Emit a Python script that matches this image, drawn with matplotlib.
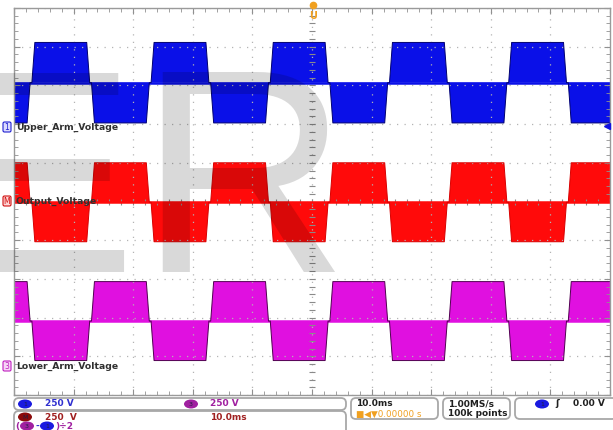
import numpy as np
import matplotlib.pyplot as plt
from matplotlib.patches import FancyBboxPatch, Ellipse

W, H = 613, 430

# scope settings
time_per_div = 10.0     # ms/div
volts_per_div = 250.0   # V/div

# start of every half-cycle burst (ms) and its shape
burst_starts = [-7.0, 3.0, 13.0, 23.0, 33.0, 43.0, 53.0, 63.0, 73.0, 83.0, 93.0]
burst_len = 9.7
ramp_len = 0.5

# polarity of each burst, envelope amplitude (V), baseline position (div)
upper_polarity = [-1, 1, -1, 1, -1, 1, -1, 1, -1, 1, -1]
output_polarity = [1, -1, 1, -1, 1, -1, 1, -1, 1, -1, 1]
lower_polarity = [1, -1, 1, -1, 1, -1, 1, -1, 1, -1, 1]
upper_amp, output_amp, lower_amp = 260.0, 255.0, 255.0
upper_offset, output_offset, lower_offset = 3.07, -0.02, -3.09

channel_names = ["Upper_Arm_Voltage", "Output_Voltage", "Lower_Arm_Voltage"]


def envelope(polarity, amp, offset):
    t, v = [], []
    for s, p in zip(burst_starts, polarity):
        level = offset + p * amp / volts_per_div
        t += [s, s + ramp_len, s + burst_len - ramp_len, s + burst_len]
        v += [offset, level, level, offset]
    return np.array(t), np.array(v)


fig = plt.figure(figsize=(W / 100, H / 100), dpi=100)
ax = fig.add_axes([14 / W, 1 - 395 / H, 596 / W, 387 / H])
ax.set_xlim(0, 10 * time_per_div)
ax.set_ylim(-5, 5)

grid_col = "#b4b4b4"
ax.set_xticks(np.arange(0, 101, time_per_div))
ax.set_yticks(np.arange(-5, 6, 1))
ax.set_xticks(np.arange(0, 100.1, time_per_div / 5), minor=True)
ax.set_yticks(np.arange(-5, 5.01, 0.2), minor=True)
ax.tick_params(which="both", direction="in", top=True, right=True,
               labelbottom=False, labelleft=False, color="#909090")
ax.tick_params(which="major", length=4)
ax.tick_params(which="minor", length=3)
ax.grid(True, which="major", color=grid_col, linestyle=(0, (1, 5)), lw=0.9)
for sp in ax.spines.values():
    sp.set_color("#9a9a9a")
    sp.set_linewidth(1.0)

# tick marks along the centre cross
xs = np.arange(0, 100.1, time_per_div / 5)
ys = np.arange(-5, 5.01, 0.2)
ax.plot(xs, np.zeros_like(xs), linestyle="none", marker="|", ms=4, color="#8a8a8a", mew=0.8)
ax.plot(np.full_like(ys, 50.0), ys, linestyle="none", marker="_", ms=4, color="#8a8a8a", mew=0.8)

traces = [
    (upper_polarity, upper_amp, upper_offset, "#0a10e8", "#000070"),
    (output_polarity, output_amp, output_offset, "#ff0a0a", "#d80000"),
    (lower_polarity, lower_amp, lower_offset, "#e010e0", "#500050"),
]
for pol, amp, off, col, edge in traces:
    t, v = envelope(pol, amp, off)
    ax.fill_between(t, off, v, color=col, lw=0)
    ax.hlines(off, 0, 100, color=col, lw=1.8)
    ax.plot(t, v, color=edge, lw=0.7)

# overlay in pixel coordinates for labels, markers and status bar
ov = fig.add_axes([0, 0, 1, 1])
ov.set_xlim(0, W)
ov.set_ylim(H, 0)
ov.axis("off")

# watermark letters
ov.text(-58, 272, "E", fontsize=209, family="Liberation Sans", color="black",
        alpha=0.15, va="baseline", ha="left")
ov.text(138, 272, "R", fontsize=209, family="Liberation Sans", color="black",
        alpha=0.15, va="baseline", ha="left")

label_y = [127, 201, 366]
badge = [("1", "#2020d0", "#dcdcff"), ("M", "#d01010", "#ffd6d6"), ("3", "#c020c0", "#f6d6f6")]
for name, y, (tag, ec, fc) in zip(channel_names, label_y, badge):
    ov.add_patch(FancyBboxPatch((3, y - 5), 8, 10, boxstyle="round,pad=0,rounding_size=1.5",
                                fc=fc, ec=ec, lw=0.8))
    ov.text(7, y + 0.5, tag, fontsize=5.5, color=ec, ha="center", va="center")
    ov.text(16, y, name, fontsize=6.7, color="#303030", ha="left", va="center",
            fontweight="semibold")

# channel 1 marker on the right edge and trigger marker at the top
ov.plot([607], [126], marker="<", ms=4, color="#1010e0")
ov.plot([313], [5], marker="o", ms=4.5, color="#f0a020")
ov.text(313, 16, "U", fontsize=7, color="#f0a020", ha="center", va="center", fontweight="bold")

# status bar
box_kw = dict(boxstyle="round,pad=0,rounding_size=5", fc="white", ec="#a8a8a8", lw=1.3)
ov.add_patch(FancyBboxPatch((14, 398), 332, 12, **box_kw))
ov.add_patch(FancyBboxPatch((14, 411), 332, 24, **box_kw))
ov.add_patch(FancyBboxPatch((351, 398), 87, 21, **box_kw))
ov.add_patch(FancyBboxPatch((443, 398), 67, 21, **box_kw))
ov.add_patch(FancyBboxPatch((515, 398), 102, 21, **box_kw))


def chan_pill(x, y, tag, col):
    ov.add_patch(Ellipse((x, y), 14, 9, fc=col, ec="none"))
    ov.text(x, y + 0.3, tag, fontsize=4.5, color="#202040", ha="center", va="center")


txt_kw = dict(fontsize=6.5, ha="left", va="center", fontweight="semibold")
chan_pill(25, 404, "1", "#1a1ae0")
ov.text(45, 404, "250 V", color="#3030d0", **txt_kw)
chan_pill(191, 404, "3", "#a020a0")
ov.text(210, 404, "250 V", color="#a020a0", **txt_kw)
chan_pill(25, 417, "M", "#8a0a0a")
ov.text(45, 417, "250  V", color="#a02020", **txt_kw)
ov.text(210, 417, "10.0ms", color="#a02020", **txt_kw)
ov.text(15, 426, "(", color="#a020a0", **txt_kw)
chan_pill(27, 426, "3", "#a020a0")
ov.text(35, 426, "-", color="#3030d0", **txt_kw)
chan_pill(47, 426, "1", "#1a1ae0")
ov.text(55, 426, ")÷2", color="#a020a0", **txt_kw)

ov.text(356, 404, "10.0ms", color="#202020", **txt_kw)
ov.text(356, 414, "■◀▼0.00000 s", color="#f0a020", fontsize=6.3, ha="left", va="center")
ov.text(448, 404, "1.00MS/s", color="#202020", **txt_kw)
ov.text(448, 414, "100k points", color="#202020", **txt_kw)
chan_pill(542, 404, "1", "#1a1ae0")
ov.text(555, 404, "ʃ", color="#202020", **txt_kw)
ov.text(573, 404, "0.00 V", color="#202020", **txt_kw)

fig.savefig("out.png", dpi=100)
